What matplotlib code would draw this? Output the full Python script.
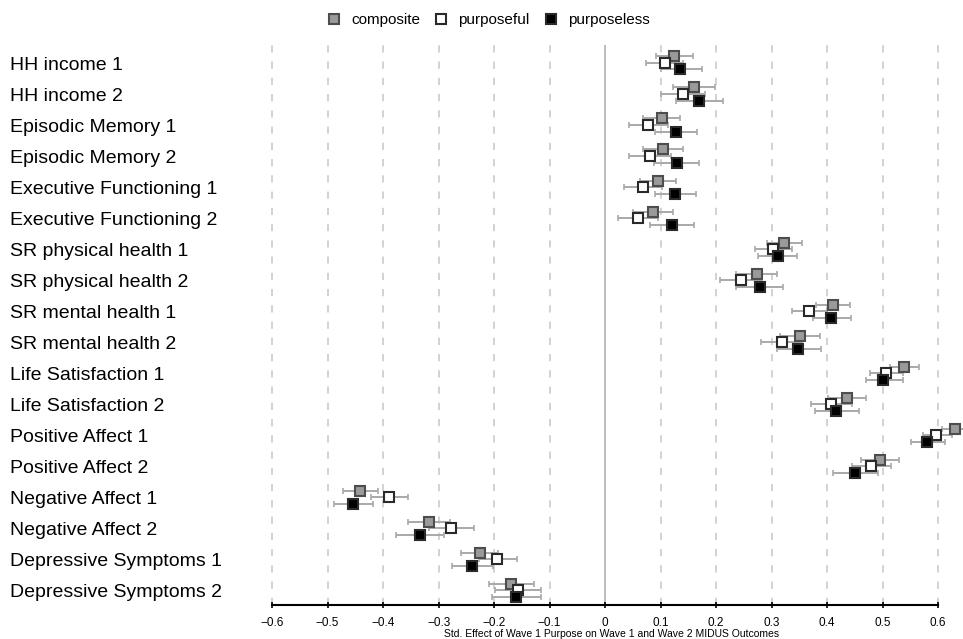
import numpy as np
import matplotlib
matplotlib.use("Agg")
import matplotlib.pyplot as plt
import matplotlib.transforms as mtransforms

plt.rcParams['font.family'] = ['Liberation Sans', 'DejaVu Sans']

outcomes = ["HH income 1", "HH income 2", "Episodic Memory 1", "Episodic Memory 2",
            "Executive Functioning 1", "Executive Functioning 2",
            "SR physical health 1", "SR physical health 2",
            "SR mental health 1", "SR mental health 2",
            "Life Satisfaction 1", "Life Satisfaction 2",
            "Positive Affect 1", "Positive Affect 2",
            "Negative Affect 1", "Negative Affect 2",
            "Depressive Symptoms 1", "Depressive Symptoms 2"]

# estimates with lower / upper CI bounds
composite = [0.124, 0.160, 0.102, 0.104, 0.095, 0.086, 0.322, 0.273, 0.410, 0.352,
             0.539, 0.436, 0.631, 0.495, -0.442, -0.317, -0.226, -0.169]
composite_lo = [0.092, 0.122, 0.069, 0.068, 0.063, 0.051, 0.292, 0.236, 0.381, 0.316,
                0.513, 0.402, 0.607, 0.462, -0.473, -0.356, -0.260, -0.209]
composite_hi = [0.158, 0.198, 0.135, 0.140, 0.128, 0.122, 0.355, 0.310, 0.441, 0.388,
                0.566, 0.471, 0.648, 0.529, -0.410, -0.279, -0.193, -0.128]

purposeful = [0.108, 0.140, 0.078, 0.081, 0.069, 0.059, 0.303, 0.245, 0.368, 0.319,
              0.507, 0.407, 0.597, 0.480, -0.389, -0.277, -0.194, -0.157]
purposeful_lo = [0.074, 0.100, 0.044, 0.044, 0.035, 0.023, 0.270, 0.208, 0.337, 0.281,
                 0.477, 0.371, 0.573, 0.445, -0.422, -0.317, -0.227, -0.199]
purposeful_hi = [0.141, 0.180, 0.114, 0.118, 0.102, 0.096, 0.336, 0.283, 0.400, 0.355,
                 0.536, 0.445, 0.626, 0.516, -0.356, -0.236, -0.158, -0.115]

purposeless = [0.135, 0.169, 0.128, 0.129, 0.126, 0.120, 0.311, 0.279, 0.408, 0.348,
               0.501, 0.416, 0.581, 0.451, -0.454, -0.333, -0.239, -0.161]
purposeless_lo = [0.100, 0.128, 0.090, 0.088, 0.090, 0.081, 0.276, 0.236, 0.375, 0.309,
                  0.471, 0.378, 0.552, 0.411, -0.489, -0.376, -0.275, -0.203]
purposeless_hi = [0.174, 0.212, 0.165, 0.170, 0.163, 0.160, 0.346, 0.320, 0.443, 0.390,
                  0.536, 0.457, 0.612, 0.492, -0.419, -0.290, -0.202, -0.116]

ticks = [-0.6, -0.5, -0.4, -0.3, -0.2, -0.1, 0, 0.1, 0.2, 0.3, 0.4, 0.5, 0.6]
tick_labels = ["\u22120.6", "\u22120.5", "\u22120.4", "\u22120.3", "\u22120.2", "\u22120.1",
               "0", "0.1", "0.2", "0.3", "0.4", "0.5", "0.6"]

series = [
    ("composite", composite, composite_lo, composite_hi, "#9a9a9a", "#4d4d4d", -0.21),
    ("purposeful", purposeful, purposeful_lo, purposeful_hi, "white", "#2a2a2a", 0.0),
    ("purposeless", purposeless, purposeless_lo, purposeless_hi, "black", "#2a2a2a", 0.21),
]

W, H = 963, 639
fig = plt.figure(figsize=(W / 100, H / 100), dpi=100)
ax_left, ax_right, ax_top, ax_bot = 261, 963, 45, 605
ax = fig.add_axes([ax_left / W, 1 - ax_bot / H, (ax_right - ax_left) / W, (ax_bot - ax_top) / H])

ax.set_xlim(-0.62, 0.645)
ax.set_ylim(17.48, -0.58)

# grid
for t in ticks:
    if t == 0:
        ax.axvline(0, color="#b8b8b8", lw=1.3, zorder=1)
    else:
        ax.axvline(t, color="#cfcfcf", lw=1.3, ls=(0, (4, 5)), zorder=1)

y = np.arange(len(outcomes))
handles = []
for name, est, lo, hi, fc, ec, off in series:
    est = np.array(est)
    err = [est - np.array(lo), np.array(hi) - est]
    ax.errorbar(est, y + off, xerr=err, fmt="none", ecolor="#a9a9a9",
                elinewidth=1.4, capsize=2.5, capthick=1.2, zorder=2)
    h = ax.plot(est, y + off, ls="none", marker="s", ms=7.2, mfc=fc, mec=ec,
                mew=1.5, zorder=3, label=name)[0]
    handles.append(h)

# y labels at the left edge of the figure, caps centred on the row
trans = mtransforms.blended_transform_factory(fig.transFigure, ax.transData)
trans = mtransforms.offset_copy(trans, fig=fig, y=-7, units="dots")
for i, lab in enumerate(outcomes):
    ax.text(10 / W, i, lab, transform=trans, ha="left", va="baseline",
            fontsize=14, color="black")

ax.set_yticks([])
for s in ["left", "right", "top"]:
    ax.spines[s].set_visible(False)
ax.spines["bottom"].set_bounds(-0.6, 0.6)
ax.spines["bottom"].set_linewidth(1.5)
ax.set_xticks(ticks)
ax.set_xticklabels(tick_labels, fontsize=8.5)
ax.tick_params(axis="x", direction="inout", length=5, width=1.2, pad=6)
ax.set_xlabel("Std. Effect of Wave 1 Purpose on Wave 1 and Wave 2 MIDUS Outcomes",
              fontsize=7.5, labelpad=0)

fig.legend(handles=handles, loc="center", bbox_to_anchor=(488 / W, 1 - 20 / H),
           ncol=3, frameon=False, fontsize=11, handlelength=1.0, handletextpad=0.6,
           columnspacing=0.9, markerscale=1.05)

fig.savefig("out.png", dpi=100)
